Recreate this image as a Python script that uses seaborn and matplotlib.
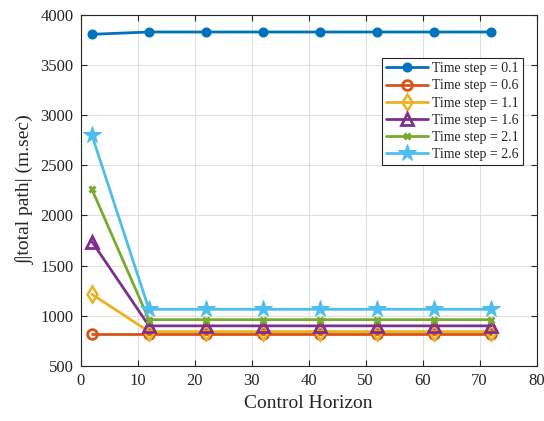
import matplotlib
matplotlib.use("Agg")
import matplotlib.pyplot as plt
import seaborn as sns
import pandas as pd

# Control horizon values and the integrated path cost for each time step
horizon = [2, 12, 22, 32, 42, 52, 62, 72]
cost_01 = [3805, 3828, 3828, 3828, 3828, 3828, 3828, 3828]
cost_06 = [820, 820, 820, 820, 820, 820, 820, 820]
cost_11 = [1215, 843, 843, 843, 843, 843, 843, 843]
cost_16 = [1740, 900, 900, 900, 900, 900, 900, 900]
cost_21 = [2260, 962, 962, 962, 962, 962, 962, 962]
cost_26 = [2800, 1065, 1065, 1065, 1065, 1065, 1065, 1065]
labels = ["Time step = 0.1", "Time step = 0.6", "Time step = 1.1",
          "Time step = 1.6", "Time step = 2.1", "Time step = 2.6"]

sns.set_theme(style="whitegrid")
plt.rcParams["font.family"] = ["Liberation Serif", "DejaVu Serif"]
plt.rcParams["mathtext.fontset"] = "stix"

series = [cost_01, cost_06, cost_11, cost_16, cost_21, cost_26]
colors = ["#0072BD", "#D95319", "#EDB120", "#7E2F8E", "#77AC30", "#4DBEEE"]
styles = [
    dict(marker="o", markersize=6.5, markerfacecolor="#0072BD"),
    dict(marker="o", markersize=7, markerfacecolor="none", markeredgewidth=2),
    dict(marker="d", markersize=8, markerfacecolor="none", markeredgewidth=1.8),
    dict(marker="^", markersize=9, markerfacecolor="none", markeredgewidth=2),
    dict(marker="x", markersize=5, markeredgewidth=2.2),
    dict(marker="*", markersize=13, markerfacecolor="#4DBEEE"),
]

fig = plt.figure(figsize=(5.44, 4.21), dpi=100)
ax = fig.add_axes([0.148, 0.1306, 0.8386, 0.8344])

for vals, lab, col, st in zip(series, labels, colors, styles):
    df = pd.DataFrame({"horizon": horizon, "cost": vals})
    sns.lineplot(data=df, x="horizon", y="cost", ax=ax, color=col, label=lab,
                 linewidth=2, markeredgecolor=col, **st)

ax.set_xlim(0, 80)
ax.set_ylim(500, 4000)
ax.set_xticks(range(0, 81, 10))
ax.set_yticks(range(500, 4001, 500))
ax.set_xlabel("Control Horizon", fontsize=14, color="#262626", labelpad=4)
ax.set_ylabel("\u222b|total path| (m.sec)", fontsize=14, color="#262626", labelpad=4)

ax.tick_params(axis="both", direction="in", length=4, width=0.8, labelsize=12,
               colors="#262626", top=True, right=True, bottom=True, left=True, pad=5)
for sp in ax.spines.values():
    sp.set_color("#262626")
    sp.set_linewidth(0.8)
ax.grid(True, color="#e0e0e0", linewidth=0.8)
ax.set_facecolor("white")

leg = ax.legend(loc="upper right", bbox_to_anchor=(0.961, 0.862),
                bbox_transform=fig.transFigure, fontsize=10, frameon=True,
                fancybox=False, edgecolor="#262626", framealpha=1,
                handlelength=3.0, handletextpad=0.3, borderpad=0.3,
                labelspacing=0.3, borderaxespad=0)
leg.get_frame().set_linewidth(0.8)

fig.savefig("out.png", dpi=100)
